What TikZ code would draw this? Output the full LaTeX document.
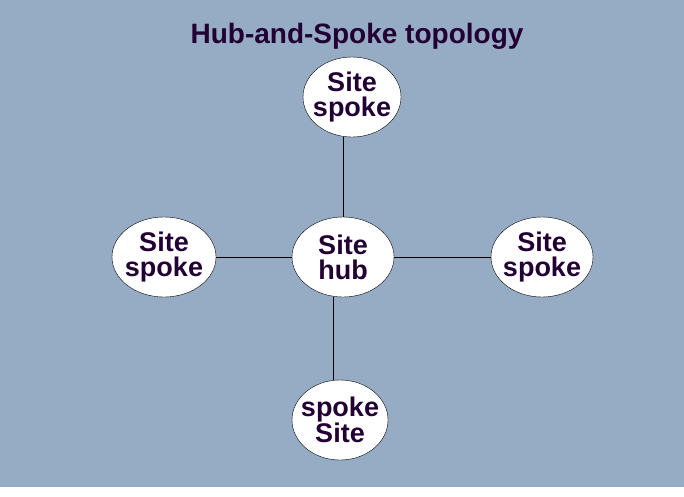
\documentclass[tikz,border=0pt]{standalone}
\usepackage{fontspec}
\setmainfont{Liberation Sans}
\usetikzlibrary{positioning}
\definecolor{bgblue}{HTML}{95ACC4}
\definecolor{txtpurple}{HTML}{220033}
\tikzset{
    site/.style={ellipse, draw, fill=white, inner sep=-6pt, text=txtpurple,
        font=\fontsize{27}{25}\selectfont\bfseries, align=center},
}
\usetikzlibrary{shapes.geometric}
\begin{document}
\begin{tikzpicture}[x=1pt, y=-1pt]
    \useasboundingbox (0,0) rectangle (684,496);
    \fill[bgblue] (0,0) rectangle (684,487);

    \node[text=txtpurple, font=\fontsize{28}{30}\selectfont\bfseries] (title) at (357,36) {Hub-and-Spoke topology};

    \node[site, minimum width=102pt, minimum height=80pt] (hub) at (343,257) {Site\\hub};
    \node[site, minimum width=98pt, minimum height=80pt] (top) at (352,97) {Site\\spoke};
    \node[site, minimum width=104pt, minimum height=80pt] (left) at (164,257) {Site\\spoke};
    \node[site, minimum width=102pt, minimum height=80pt] (right) at (542,257) {Site\\spoke};
    \node[site, minimum width=96pt, minimum height=80pt] (bottom) at (340,420) {spoke\\Site};

    \draw (hub.north) -- (hub.north |- top.south);
    \draw (hub.west) -- (left.east);
    \draw (hub.east) -- (right.west);
    \draw ([xshift=-10pt]hub.south) -- ([xshift=-10pt]hub.south |- bottom.north);
\end{tikzpicture}
\end{document}
